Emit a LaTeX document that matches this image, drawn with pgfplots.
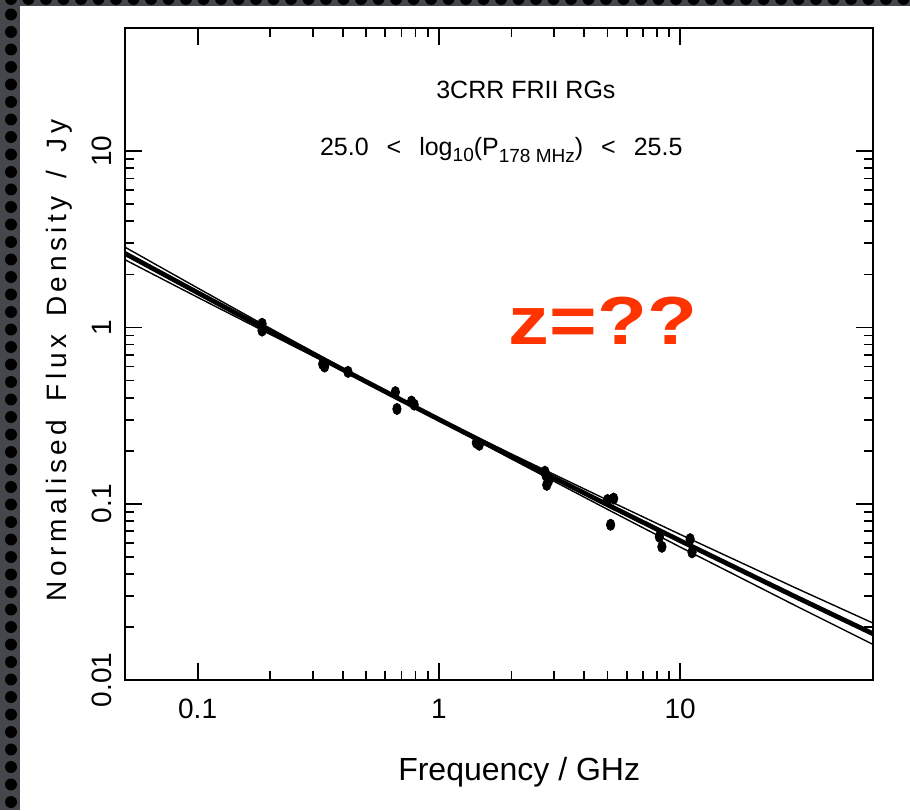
\documentclass[border=0pt]{standalone}
\usepackage{pgfplots}
\pgfplotsset{compat=1.18}
\usepackage{fontspec}
\setmainfont{Liberation Sans}
\newfontfamily\spaced[LetterSpace=16]{Liberation Sans}
\definecolor{bgdark}{HTML}{44484C}
\definecolor{zred}{HTML}{FF3300}
\begin{document}
\begin{tikzpicture}
\useasboundingbox (0,0) rectangle (455pt,405pt);
% background frame
\fill[bgdark] (0,0) rectangle (455pt,405pt);
\foreach \i in {0,...,46} {\fill[black] (5.5pt,\i*8.75pt+4pt) circle (3pt);}
\foreach \j in {0,...,52} {\fill[black] (\j*8.75pt+5.5pt,405.5pt) circle (3pt);}
\fill[white] (10pt,0) rectangle (455pt,402pt);
\begin{axis}[
  at={(62.5pt,65pt)}, anchor=south west,
  scale only axis, width=374pt, height=326pt,
  xmode=log, ymode=log,
  xmin=0.05, xmax=63, ymin=0.01, ymax=50,
  xtick={0.1,1,10}, xticklabels={0.1,1,10},
  ytick={0.01,0.1,1,10}, yticklabels={0.01,0.1,1,10},
  /pgf/number format/assume math mode=true,
  tick align=inside,
  major tick length=8.5pt, minor tick length=4.5pt,
  axis line style={line width=1pt},
  every tick/.style={black, line width=0.9pt},
  ticklabel style={font=\fontsize{14}{16}\selectfont},
  xticklabel shift=6pt,
  yticklabel style={rotate=90, anchor=south},
  yticklabel shift=3pt,
  every axis x label/.style={at={(axis description cs:0.527,-0.141)},anchor=center,font=\fontsize{16}{18}\selectfont},
  every axis y label/.style={at={(axis description cs:-0.088,0.49)},rotate=90,anchor=center,font=\fontsize{14}{16}\selectfont\spaced},
  xlabel={Frequency / GHz},
  ylabel={Normalised\hspace{0.65em}Flux\hspace{0.65em}Density\hspace{0.65em}/\hspace{0.65em}Jy},
  clip=true,
]
% fit lines (best fit and confidence envelope)
\addplot[black, line width=0.7pt] coordinates {(0.05,2.855) (0.1,1.675) (0.2,0.9883) (0.4,0.5879) (0.7,0.3901) (1,0.3048) (2,0.1915) (5,0.1049) (10,0.0670) (30,0.03337) (63,0.02104)};
\addplot[black, line width=0.7pt] coordinates {(0.05,2.423) (0.1,1.483) (0.2,0.9139) (0.4,0.5659) (0.7,0.3848) (1,0.2972) (2,0.1795) (5,0.0929) (10,0.0568) (30,0.02645) (63,0.01592)};
\addplot[black, line width=2.4pt] coordinates {(0.05,2.630) (0.1,1.576) (0.2,0.950) (0.4,0.5769) (0.7,0.3874) (1,0.3010) (2,0.1854) (5,0.0987) (10,0.0617) (30,0.0297) (63,0.0183)};
% data points
\addplot[only marks, mark=*, mark size=2.8pt, mark options={xscale=0.75, fill=black, draw=black}] coordinates {
(0.185,1.05) (0.185,0.96)
(0.330,0.62) (0.336,0.60)
(0.42,0.56)
(0.66,0.43) (0.67,0.345)
(0.77,0.38) (0.79,0.365)
(1.43,0.222) (1.47,0.216)
(2.75,0.152) (2.78,0.145) (2.80,0.128) (2.85,0.135)
(5.0,0.105) (5.3,0.107) (5.15,0.076)
(8.2,0.065) (8.4,0.057)
(11.0,0.063) (11.2,0.053)
};
\node[font=\fontsize{12.5}{14}\selectfont] at (rel axis cs:0.536,0.905) {3CRR FRII RGs};
\node[font=\fontsize{12.5}{14}\selectfont] at (rel axis cs:0.503,0.813) {25.0\hspace{9pt}<\hspace{9pt}log\raisebox{-0.5ex}{\fontsize{9.5}{10}\selectfont 10}(P\raisebox{-0.55ex}{\fontsize{9.5}{10}\selectfont 178 MHz})\hspace{9pt}<\hspace{9pt}25.5};
\node[font=\fontsize{34}{36}\selectfont\bfseries, text=zred, xscale=1.2] at (rel axis cs:0.639,0.551) {z=??};
\end{axis}
\end{tikzpicture}
\end{document}
